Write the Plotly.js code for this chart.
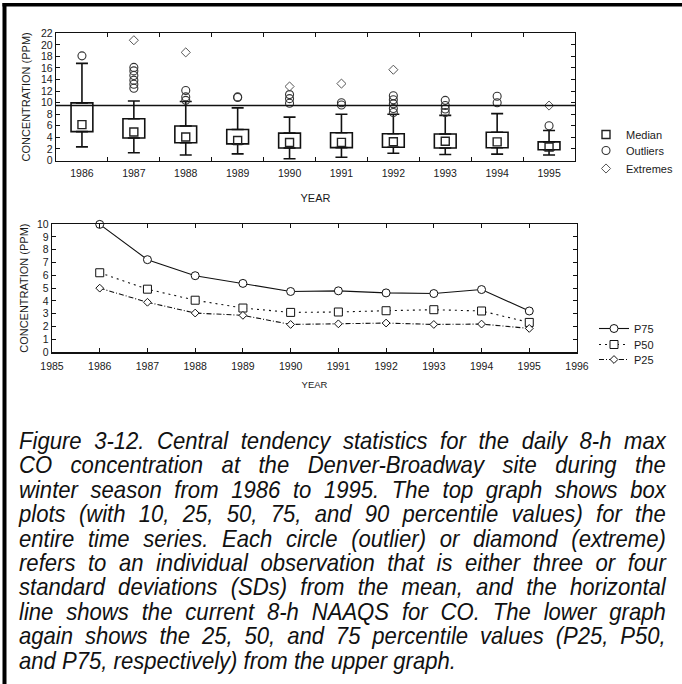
<!DOCTYPE html>
<html>
<head>
<meta charset="utf-8">
<script src="https://cdn.plot.ly/plotly-3.0.1.min.js"></script>
<style>
  html, body { margin: 0; padding: 0; background: #fff; }
  #wrap { position: relative; width: 682px; height: 684px; overflow: hidden; }
  #chart { position: absolute; left: 0; top: 0; width: 682px; height: 684px; }
  #caption {
    position: absolute; left: 19px; top: 429px; width: 703px;
    transform: scaleX(0.92); transform-origin: 0 0;
    font-family: 'Liberation Sans', Arial, sans-serif; font-style: italic;
    font-size: 24px; line-height: 24.4px; color: #111;
  }
  #caption div { text-align: justify; text-align-last: justify; white-space: nowrap; }
  #caption div.last { text-align-last: left; }
</style>
</head>
<body>
<div id="wrap">
  <div id="chart"></div>
  <div id="caption"></div>
</div>
<script>
// Winter daily 8-h max CO, Denver-Broadway, percentiles by year (ppm)
const years = [1986, 1987, 1988, 1989, 1990, 1991, 1992, 1993, 1994, 1995];
const p10 = [2.35, 1.35, 0.95, 1.15, 0.3, 0.55, 1.25, 1.05, 1.1, 0.95];
const p25 = [5.0, 3.9, 3.06, 2.88, 2.17, 2.22, 2.28, 2.17, 2.2, 1.86];
const p50 = [6.2, 4.92, 4.06, 3.45, 3.11, 3.14, 3.24, 3.32, 3.22, 2.33];
const p75 = [9.97, 7.22, 5.97, 5.37, 4.74, 4.79, 4.63, 4.58, 4.89, 3.22];
const p90 = [16.8, 10.3, 10.2, 9.1, 7.5, 8.0, 8.0, 7.8, 8.1, 5.2];

// Outliers (3 SD) and extremes (4 SD)
const outlierYear = [1986,
  1987, 1987, 1987, 1987, 1987, 1987,
  1988, 1988, 1988,
  1989, 1989,
  1990, 1990, 1990,
  1991, 1991,
  1992, 1992, 1992, 1992, 1992,
  1993, 1993, 1993, 1993,
  1994, 1994,
  1995];
const outlierValue = [18.1,
  16.1, 15.5, 14.7, 13.9, 13.2, 12.5,
  12.1, 11.0, 10.4,
  10.9, 11.0,
  11.4, 10.7, 9.9,
  10.0, 9.6,
  11.2, 10.5, 9.8, 9.0, 8.3,
  10.4, 9.5, 8.9, 8.3,
  11.1, 10.0,
  6.0];
const extremeYear = [1987, 1988, 1990, 1991, 1992, 1995];
const extremeValue = [20.8, 18.7, 12.8, 13.3, 15.7, 9.5];

// Current 8-h NAAQS for CO (ppm)
const naaqs = 9.5;

const captionLines = [
  'Figure 3-12.  Central tendency statistics for the daily 8-h max',
  'CO concentration at the Denver-Broadway site during the',
  'winter season from 1986 to 1995.  The top graph shows box',
  'plots (with 10, 25, 50, 75, and 90 percentile values) for the',
  'entire time series.  Each circle (outlier) or diamond (extreme)',
  'refers to an individual observation that is either three or four',
  'standard deviations (SDs) from the mean, and the horizontal',
  'line shows the current 8-h NAAQS for CO.  The lower graph',
  'again shows the 25, 50, and 75 percentile values (P25, P50,',
  'and P75, respectively) from the upper graph.'
];

const W = 682, H = 684;
const fx = px => px / W;
const fy = py => 1 - py / H;
const FONT = 'Liberation Sans, Arial, sans-serif';
const INK = '#1a1a1a';

const cats = years.map(String);
const zeros = years.map(() => 0);

const traces = [
  // box bodies: 25th to 75th percentile
  {
    type: 'bar', x: cats, base: p25, y: p75.map((v, i) => v - p25[i]),
    width: 0.42, xaxis: 'x', yaxis: 'y',
    marker: { color: '#fff', line: { color: '#111', width: 1.6 } },
    showlegend: false, hoverinfo: 'skip'
  },
  // upper whiskers: 75th to 90th percentile
  {
    type: 'scatter', mode: 'markers', x: cats, y: p75, xaxis: 'x', yaxis: 'y',
    marker: { size: 1, opacity: 0 },
    error_y: { type: 'data', symmetric: false, array: p90.map((v, i) => v - p75[i]),
               arrayminus: zeros, color: '#111', thickness: 1.6, width: 6 },
    showlegend: false, hoverinfo: 'skip'
  },
  // lower whiskers: 10th to 25th percentile
  {
    type: 'scatter', mode: 'markers', x: cats, y: p25, xaxis: 'x', yaxis: 'y',
    marker: { size: 1, opacity: 0 },
    error_y: { type: 'data', symmetric: false, array: zeros,
               arrayminus: p25.map((v, i) => v - p10[i]), color: '#111', thickness: 1.6, width: 6 },
    showlegend: false, hoverinfo: 'skip'
  },
  {
    type: 'scatter', mode: 'markers', name: 'Median', x: cats, y: p50, xaxis: 'x', yaxis: 'y',
    marker: { symbol: 'square-open', size: 8, color: '#222', line: { width: 1.4 } },
    legend: 'legend'
  },
  {
    type: 'scatter', mode: 'markers', name: 'Outliers', x: outlierYear.map(String), y: outlierValue,
    xaxis: 'x', yaxis: 'y', cliponaxis: false,
    marker: { symbol: 'circle-open', size: 8, color: '#333', line: { width: 1.1 } },
    legend: 'legend3'
  },
  {
    type: 'scatter', mode: 'markers', name: 'Extremes', x: extremeYear.map(String), y: extremeValue,
    xaxis: 'x', yaxis: 'y', cliponaxis: false,
    marker: { symbol: 'diamond-open', size: 7, color: '#555', line: { width: 1 } },
    legend: 'legend4'
  },
  // lower graph
  {
    type: 'scatter', mode: 'lines+markers', name: 'P75', x: years, y: p75, xaxis: 'x2', yaxis: 'y2',
    cliponaxis: false,
    line: { color: '#111', width: 1.1 },
    marker: { symbol: 'circle', size: 8, color: '#fff', line: { color: '#111', width: 1 } },
    legend: 'legend2'
  },
  {
    type: 'scatter', mode: 'lines+markers', name: 'P50', x: years, y: p50, xaxis: 'x2', yaxis: 'y2',
    cliponaxis: false,
    line: { color: '#111', width: 1.1, dash: '2px,4px' },
    marker: { symbol: 'square', size: 8, color: '#fff', line: { color: '#111', width: 1 } },
    legend: 'legend5'
  },
  {
    type: 'scatter', mode: 'lines+markers', name: 'P25', x: years, y: p25, xaxis: 'x2', yaxis: 'y2',
    cliponaxis: false,
    line: { color: '#111', width: 1.1, dash: '5px,2px,1px,2px' },
    marker: { symbol: 'diamond', size: 6, color: '#fff', line: { color: '#111', width: 1 } },
    legend: 'legend6'
  }
];

const axisBase = {
  showline: true, linecolor: '#111', linewidth: 1.3, mirror: 'allticks',
  ticks: 'inside', ticklen: 4, tickcolor: '#111', tickwidth: 1,
  showgrid: false, zeroline: false, automargin: false,
  tickfont: { family: FONT, size: 10.5, color: INK }
};

function legendAt(left, top) {
  return {
    x: fx(left), y: fy(top), xanchor: 'left', yanchor: 'top',
    bgcolor: 'rgba(0,0,0,0)', borderwidth: 0,
    font: { family: FONT, size: 11, color: INK }
  };
}

const layout = {
  width: W, height: H,
  margin: { l: 0, r: 0, t: 0, b: 0 },
  paper_bgcolor: '#fff', plot_bgcolor: '#fff',
  font: { family: FONT, color: INK },
  bargap: 0,
  xaxis: Object.assign({}, axisBase, {
    domain: [fx(56), fx(575)], anchor: 'y', type: 'category', range: [-0.5, 9.5],
    tickson: 'boundaries', ticklabelstandoff: 3,
    title: { text: 'YEAR', font: { family: FONT, size: 11, color: INK }, standoff: 16 }
  }),
  yaxis: Object.assign({}, axisBase, {
    domain: [fy(160.5), fy(33.3)], anchor: 'x', range: [0, 22], dtick: 2,
    title: { text: 'CONCENTRATION (PPM)', font: { family: FONT, size: 11, color: INK }, standoff: 8 }
  }),
  xaxis2: Object.assign({}, axisBase, {
    domain: [fx(52), fx(577)], anchor: 'y2', range: [1985, 1996], dtick: 1,
    ticklabelstandoff: 4,
    title: { text: 'YEAR', font: { family: FONT, size: 9.5, color: INK }, standoff: 10 }
  }),
  yaxis2: Object.assign({}, axisBase, {
    domain: [fy(352.3), fy(224)], anchor: 'x2', range: [0, 10], dtick: 1,
    title: { text: 'CONCENTRATION (PPM)', font: { family: FONT, size: 11, color: INK }, standoff: 6 }
  }),
  legend: legendAt(586, 120),
  legend3: legendAt(586, 136),
  legend4: legendAt(586, 154),
  legend2: legendAt(594, 314),
  legend5: legendAt(594, 330),
  legend6: legendAt(594, 345),
  shapes: [
    // NAAQS reference line across the upper graph
    { type: 'line', xref: 'x domain', yref: 'y', x0: 0, x1: 1, y0: naaqs, y1: naaqs,
      line: { color: '#111', width: 1.5 } },
    // page frame, left and top edges
    { type: 'rect', xref: 'paper', yref: 'paper', x0: fx(2.5), x1: fx(6.5), y0: 0, y1: fy(3),
      fillcolor: '#000', line: { width: 0 } },
    { type: 'rect', xref: 'paper', yref: 'paper', x0: fx(2.5), x1: 1, y0: fy(6.5), y1: fy(3),
      fillcolor: '#000', line: { width: 0 } }
  ]
};

Plotly.newPlot('chart', traces, layout, { staticPlot: true, displayModeBar: false });

const cap = document.getElementById('caption');
captionLines.forEach((t, i) => {
  const d = document.createElement('div');
  d.textContent = t;
  if (i === captionLines.length - 1) d.className = 'last';
  cap.appendChild(d);
});
</script>
</body>
</html>
